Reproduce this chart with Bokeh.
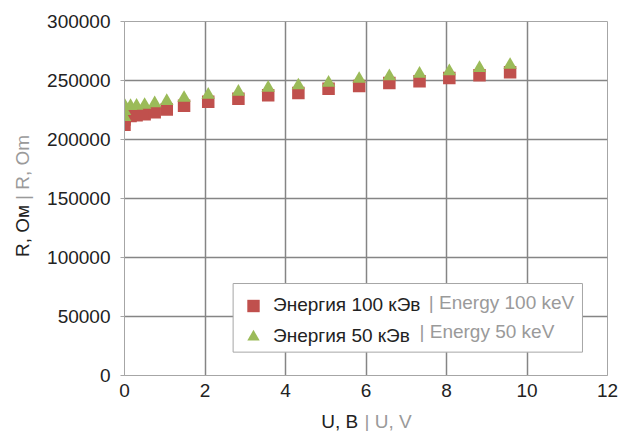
from bokeh.plotting import figure
from bokeh.models import (Range1d, FixedTicker, NumeralTickFormatter, Legend,
                          LegendItem, Label, BoxAnnotation)
from bokeh.embed import file_html
from bokeh.resources import INLINE

# ---- data ----
u_volts = [0.0, 0.0, 0.0, 0.15, 0.30, 0.50, 0.75, 1.05, 1.48, 2.08, 2.83,
           3.57, 4.32, 5.07, 5.83, 6.58, 7.33, 8.07, 8.82, 9.58]
r_100kev = [212500, 217000, 219000, 220000, 220500, 221500, 223000, 225500,
            228500, 232000, 234500, 237600, 239500, 243000, 245400, 247900,
            249400, 252100, 254500, 257000]
r_50kev = [219000, 224000, 229000, 228300, 228500, 229300, 230600, 232600,
           235200, 237800, 240400, 243800, 245800, 248000, 251300, 253500,
           255600, 257700, 260600, 263200]

x_ticks = [0, 2, 4, 6, 8, 10, 12]
y_ticks = [0, 50000, 100000, 150000, 200000, 250000, 300000]

label_100_ru = "Энергия 100 кЭв"
label_100_en = "| Energy 100 keV"
label_50_ru = "Энергия 50 кЭв"
label_50_en = "| Energy 50 keV"
x_title_ru = "U, В"
x_title_en = "| U, V"
y_title_ru = "R, Ом"
y_title_en = "| R, Om"

RED = "#C0504D"
GREEN = "#9BBB59"
DARK = "#222222"
GREY = "#9a9a9a"
FONT = "Liberation Sans"
FS = "19px"

p = figure(width=628, height=431, output_backend="svg", toolbar_location=None,
           x_range=Range1d(x_ticks[0], x_ticks[-1]),
           y_range=Range1d(y_ticks[0], y_ticks[-1]),
           min_border_left=124, min_border_right=21,
           min_border_top=18, min_border_bottom=56)
p.background_fill_color = "white"
p.border_fill_color = "white"
p.outline_line_color = "#a6a6a6"
p.outline_line_width = 1

# axes
p.xaxis.ticker = FixedTicker(ticks=x_ticks)
p.yaxis.ticker = FixedTicker(ticks=y_ticks)
p.yaxis.formatter = NumeralTickFormatter(format="0")
for ax in (p.xaxis[0], p.yaxis[0]):
    ax.axis_line_color = "#a6a6a6"
    ax.major_tick_line_color = "#a6a6a6"
    ax.minor_tick_line_color = None
    ax.major_tick_in = 0
    ax.major_label_text_font = FONT
    ax.major_label_text_font_size = FS
    ax.major_label_text_color = DARK
p.xaxis.major_tick_out = 0
p.xaxis.major_label_standoff = 8
p.yaxis.major_tick_out = 4
p.yaxis.major_label_standoff = 10

# grid (interior lines only, darker)
p.xgrid.ticker = FixedTicker(ticks=x_ticks[1:-1])
p.ygrid.ticker = FixedTicker(ticks=y_ticks[1:-1])
p.grid.grid_line_color = "#858585"
p.grid.grid_line_width = 1.5

# helpers: pixel -> data for annotation placement
def dx(px):
    return (px - 124.5) / (482.5 / 12)

def dy(py):
    return (374.5 - py) / 356.0 * 300000

# data
r1 = p.scatter(u_volts, r_100kev, marker="square", size=12.5,
               fill_color=RED, line_color=RED, line_width=0)
r2 = p.scatter(u_volts, r_50kev, marker="triangle", size=13.5,
               fill_color=GREEN, line_color=GREEN, line_width=0)

# legend frame
box = BoxAnnotation(left=dx(233), right=dx(582), top=dy(282), bottom=dy(351),
                    fill_color="white", fill_alpha=1.0,
                    line_color="#a6a6a6", line_width=1, line_alpha=1.0)
p.add_layout(box)

legend = Legend(items=[LegendItem(label=label_100_ru, renderers=[r1]),
                       LegendItem(label=label_50_ru, renderers=[r2])],
                location=(110, 23.5), margin=0, padding=3, spacing=0,
                glyph_width=38, glyph_height=31, label_height=31,
                label_standoff=1, label_width=150,
                label_text_font=FONT, label_text_font_size=FS,
                label_text_color=DARK,
                border_line_color=None, background_fill_alpha=0)
p.add_layout(legend, "center")

for txt, px, py in [(label_100_en, 428.5, 301), (label_50_en, 419.2, 330.5)]:
    p.add_layout(Label(x=dx(px), y=dy(py), text=txt, text_color=GREY,
                       text_align="left", text_baseline="middle",
                       text_font=FONT, text_font_size=FS))

# axis titles (two colours each), placed in side panels so they are not clipped
p.add_layout(Label(x=dx(358), y=dy(421), text=x_title_ru, text_color=DARK,
                   text_align="right", text_baseline="middle",
                   text_font=FONT, text_font_size=FS), "below")
p.add_layout(Label(x=dx(364.2), y=dy(421), text=x_title_en, text_color=GREY,
                   text_align="left", text_baseline="middle",
                   text_font=FONT, text_font_size=FS), "above")
p.add_layout(Label(x=dx(22.5), y=dy(203), text=y_title_ru, text_color=DARK,
                   angle=1.5707963, text_align="right", text_baseline="middle",
                   text_font=FONT, text_font_size=FS), "left")
p.add_layout(Label(x=dx(22.5), y=dy(198), text=y_title_en, text_color=GREY,
                   angle=1.5707963, text_align="left", text_baseline="middle",
                   text_font=FONT, text_font_size=FS), "left")

open("out.html", "w").write(file_html(p, INLINE))
